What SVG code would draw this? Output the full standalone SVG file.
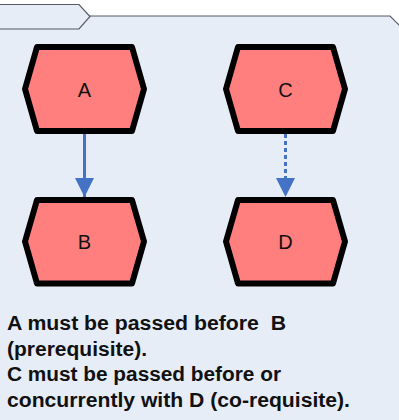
<svg xmlns="http://www.w3.org/2000/svg" width="399" height="420" viewBox="0 0 399 420">
<defs>
<style>
.frame{fill:#e7edf7;stroke:#555a63;stroke-width:1.2}
.hex{fill:#ff7f7f;stroke:#000;stroke-width:6;stroke-linejoin:round}
.lbl{font-family:"Liberation Sans",Arial,sans-serif;font-size:20px;fill:#111;text-anchor:middle}
.note{font-family:"Liberation Sans",Arial,sans-serif;font-size:20px;font-weight:bold;fill:#111}
.edge{stroke:#4472c4;stroke-width:3;fill:none}
</style>
<marker id="arr" markerWidth="20" markerHeight="19" refX="19" refY="9.5" orient="auto" markerUnits="userSpaceOnUse">
<path d="M0,0 L19,9.5 L0,19 Z" fill="#4472c4"/>
</marker>
</defs>
<rect width="399" height="420" fill="#fff"/>
<g id="frame">
<path class="frame" d="M-5,425 L-5,16 L390,16 L430,56 L430,425 Z"/>
<path class="frame" d="M-5,4.5 L79,4.5 L90,16.5 L79,29 L-5,29 Z"/>
</g>
<g id="connectors">
<line class="edge" x1="84.5" y1="134" x2="84.5" y2="197" marker-end="url(#arr)"/>
<line class="edge" x1="285.5" y1="134" x2="285.5" y2="197" stroke-dasharray="4,3" marker-end="url(#arr)"/>
</g>
<g id="A">
<polygon class="hex" points="25,89 37,47 132,47 144,89 132,131 37,131"/>
<text class="lbl" x="84.5" y="96.5">A</text>
</g>
<g id="B">
<polygon class="hex" points="25,241.5 37,200 132,200 144,241.5 132,283.5 37,283.5"/>
<text class="lbl" x="84.5" y="249">B</text>
</g>
<g id="C">
<polygon class="hex" points="226,89 238,47 333,47 345,89 333,131 238,131"/>
<text class="lbl" x="285.5" y="96.5">C</text>
</g>
<g id="D">
<polygon class="hex" points="226,241.5 238,200 333,200 345,241.5 333,283.5 238,283.5"/>
<text class="lbl" x="285.5" y="249">D</text>
</g>
<g id="note">
<text class="note" x="7" y="330" xml:space="preserve" textLength="279" lengthAdjust="spacingAndGlyphs">A must be passed before  B</text>
<text class="note" x="7" y="355.5" textLength="140" lengthAdjust="spacingAndGlyphs">(prerequisite).</text>
<text class="note" x="7" y="381" textLength="274" lengthAdjust="spacingAndGlyphs">C must be passed before or</text>
<text class="note" x="7" y="406.5" textLength="343" lengthAdjust="spacingAndGlyphs">concurrently with D (co-requisite).</text>
</g>
</svg>
